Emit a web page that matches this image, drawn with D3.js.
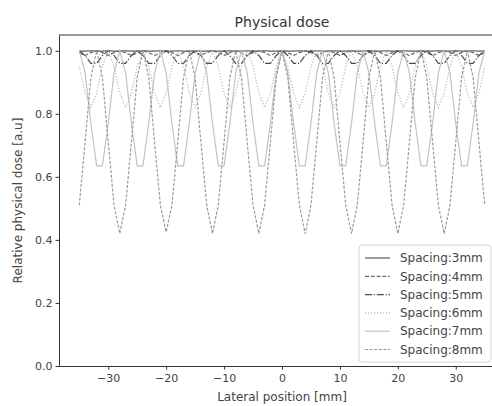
<!DOCTYPE html>
<html>
<head>
<meta charset="utf-8">
<script src="https://cdn.jsdelivr.net/npm/d3@7"></script>
<style>
  body { margin: 0; background: #fff; }
  svg { font-family: "DejaVu Sans", sans-serif; }
</style>
</head>
<body>
<svg id="chart" width="492" height="406"></svg>
<script>
// lateral positions [mm]
var positions = [-35,-34,-33,-32,-31,-30,-29,-28,-27,-26,-25,-24,-23,-22,-21,-20,-19,-18,-17,-16,-15,-14,-13,-12,-11,-10,-9,-8,-7,-6,-5,-4,-3,-2,-1,
  0,1,2,3,4,5,6,7,8,9,10,11,12,13,14,15,16,17,18,19,20,21,22,23,24,25,26,27,28,29,30,31,32,33,34,35]

var labels = ['Spacing:3mm','Spacing:4mm','Spacing:5mm','Spacing:6mm','Spacing:7mm','Spacing:8mm']

var dose3 = [0.999,0.999,
  1,0.999,0.999, 1,0.999,0.999, 1,0.999,0.999, 1,0.999,0.999, 1,0.999,0.999, 1,0.999,0.999,
  1,0.999,0.999, 1,0.999,0.999, 1,0.999,0.999, 1,0.999,0.999, 1,0.999,0.999,
  1,0.999,0.999, 1,0.999,0.999, 1,0.999,0.999, 1,0.999,0.999, 1,0.999,0.999,
  1,0.999,0.999, 1,0.999,0.999, 1,0.999,0.999, 1,0.999,0.999, 1,0.999,0.999, 1,0.999,0.999,
  1,0.999,0.999]

var dose4 = [0.994,0.985,0.994,
  1,0.994,0.985,0.994, 1,0.994,0.985,0.994, 1,0.994,0.985,0.994, 1,0.994,0.985,0.994,
  1,0.994,0.985,0.994, 1,0.994,0.985,0.994, 1,0.994,0.985,0.994, 1,0.994,0.985,0.994,
  1,0.994,0.985,0.994, 1,0.994,0.985,0.994, 1,0.994,0.985,0.994, 1,0.994,0.985,0.994,
  1,0.994,0.985,0.994, 1,0.994,0.985,0.994, 1,0.994,0.985,0.994, 1,0.994,0.985,0.994,
  1,0.994,0.985,0.994]

var dose5 = [1,0.985,0.96,0.96,0.985, 1,0.985,0.96,0.96,0.985, 1,0.985,0.96,0.96,0.985,
  1,0.985,0.96,0.96,0.985, 1,0.985,0.96,0.96,0.985, 1,0.985,0.96,0.96,0.985,
  1,0.985,0.96,0.96,0.985, 1,0.985,0.96,0.96,0.985, 1,0.985,0.96,0.96,0.985,
  1,0.985,0.96,0.96,0.985, 1,0.985,0.96,0.96,0.985, 1,0.985,0.96,0.96,0.985,
  1,0.985,0.96,0.96,0.985, 1,0.985,0.96,0.96,0.985, 1]

var dose6 = [0.95,0.865,0.82,0.865,0.95,
  1,0.95,0.865,0.82,0.865,0.95, 1,0.95,0.865,0.82,0.865,0.95, 1,0.95,0.865,0.82,0.865,0.95,
  1,0.95,0.865,0.82,0.865,0.95, 1,0.95,0.865,0.82,0.865,0.95, 1,0.95,0.865,0.82,0.865,0.95,
  1,0.95,0.865,0.82,0.865,0.95, 1,0.95,0.865,0.82,0.865,0.95, 1,0.95,0.865,0.82,0.865,0.95,
  1,0.95,0.865,0.82,0.865,0.95,
  1,0.95,0.865,0.82,0.865,0.95]

var dose7 = [1,0.93,0.77,0.635,0.635,0.77,0.93, 1,0.93,0.77,0.635,0.635,0.77,0.93,
  1,0.93,0.77,0.635,0.635,0.77,0.93, 1,0.93,0.77,0.635,0.635,0.77,0.93,
  1,0.93,0.77,0.635,0.635,0.77,0.93, 1,0.93,0.77,0.635,0.635,0.77,0.93,
  1,0.93,0.77,0.635,0.635,0.77,0.93, 1,0.93,0.77,0.635,0.635,0.77,0.93,
  1,0.93,0.77,0.635,0.635,0.77,0.93, 1,0.93,0.77,0.635,0.635,0.77,0.93,
  1]

var dose8 = [0.51,0.71,0.915,
  1,0.915,0.71,0.51,0.42,0.51,0.71,0.915, 1,0.915,0.71,0.51,0.425,0.51,0.71,0.915,
  1,0.915,0.71,0.51,0.42,0.51,0.71,0.915, 1,0.915,0.71,0.51,0.42,0.51,0.71,0.915,
  1,0.915,0.71,0.51,0.42,0.51,0.71,0.915, 1,0.915,0.71,0.51,0.42,0.51,0.71,0.915,
  1,0.915,0.71,0.51,0.42,0.51,0.71,0.915, 1,0.915,0.71,0.51,0.42,0.51,0.71,0.915,
  1,0.915,0.71,0.51]

var xTicks = [-30,-20,-10,0,10,20,30]
var yTicks = [0,0.2,0.4,0.6,0.8,1.0]

var styles = [
  {color: '#5a5a5a', dash: null},
  {color: '#6e6e6e', dash: '4,1.8'},
  {color: '#4a4a4a', dash: '7,1.8,1.2,1.8'},
  {color: '#b8b8b8', dash: '1.2,1.8'},
  {color: '#c2c2c2', dash: null},
  {color: '#9a9a9a', dash: '3,1.6'}
]

var series = [dose3, dose4, dose5, dose6, dose7, dose8].map((v, i) => ({
  label: labels[i],
  values: v.map((d, j) => ({x: positions[j], y: d})),
  style: styles[i]
}))

var svg = d3.select('#chart')
var margin = {left: 59, top: 35, bottom: 366, right: 505}

var xs = d3.scaleLinear().domain([-38.5, 38.5]).range([margin.left, margin.right])
var ys = d3.scaleLinear().domain([0, 1.05]).range([margin.bottom, margin.top])

svg.append('defs').append('clipPath').attr('id', 'clip')
  .append('rect').attr('x', margin.left).attr('y', margin.top)
  .attr('width', margin.right - margin.left).attr('height', margin.bottom - margin.top)

var line = d3.line().x(d => xs(d.x)).y(d => ys(d.y))

var plot = svg.append('g').attr('clip-path', 'url(#clip)')
series.forEach(s => {
  plot.append('path')
    .attr('d', line(s.values))
    .style('fill', 'none')
    .style('stroke', s.style.color)
    .style('stroke-width', 1.2)
    .style('stroke-dasharray', s.style.dash)
})

// axes
var xAxis = svg.append('g').attr('transform', `translate(0,${margin.bottom})`)
  .call(d3.axisBottom(xs).tickValues(xTicks).tickSize(3.5).tickSizeOuter(0)
    .tickFormat(d => d < 0 ? '\u2212' + Math.abs(d) : d))
var yAxis = svg.append('g').attr('transform', `translate(${margin.left},0)`)
  .call(d3.axisLeft(ys).tickValues(yTicks).tickSize(3.5).tickSizeOuter(0).tickFormat(d3.format('.1f')))

;[xAxis, yAxis].forEach(a => {
  a.select('.domain').style('stroke', '#333').style('stroke-width', 1)
  a.selectAll('.tick line').style('stroke', '#333').style('stroke-width', 1)
  a.selectAll('.tick text').style('font-size', '11px').style('fill', '#444')
    .style('font-family', '"DejaVu Sans", sans-serif')
})
xAxis.selectAll('.tick text').attr('dy', '0.9em')

// top spine
svg.append('line').attr('x1', margin.left).attr('x2', margin.right)
  .attr('y1', margin.top).attr('y2', margin.top)
  .style('stroke', '#333').style('stroke-width', 1)

svg.append('text').attr('x', (margin.left + margin.right) / 2).attr('y', 27)
  .attr('text-anchor', 'middle').style('font-size', '14px').style('fill', '#333')
  .text('Physical dose')

svg.append('text').attr('x', (margin.left + margin.right) / 2).attr('y', 401)
  .attr('text-anchor', 'middle').style('font-size', '12px').style('fill', '#444')
  .text('Lateral position [mm]')

svg.append('text').attr('transform', `translate(22,${(margin.top + margin.bottom) / 2}) rotate(-90)`)
  .attr('text-anchor', 'middle').style('font-size', '12px').style('fill', '#444')
  .text('Relative physical dose [a.u]')

// legend
var legend = svg.append('g')
legend.append('rect').attr('x', 359).attr('y', 245).attr('width', 132).attr('height', 117)
  .attr('rx', 3).style('fill', 'rgba(255,255,255,0.85)').style('stroke', '#d4d4d4')

series.forEach((s, i) => {
  var y = 258 + i * 18.3
  legend.append('line').attr('x1', 365).attr('x2', 390).attr('y1', y).attr('y2', y)
    .style('stroke', s.style.color).style('stroke-width', 1.2)
    .style('stroke-dasharray', s.style.dash)
  legend.append('text').attr('x', 400).attr('y', y).attr('dy', '0.35em')
    .style('font-size', '12px').style('fill', '#444').text(s.label)
})
</script>
</body>
</html>
